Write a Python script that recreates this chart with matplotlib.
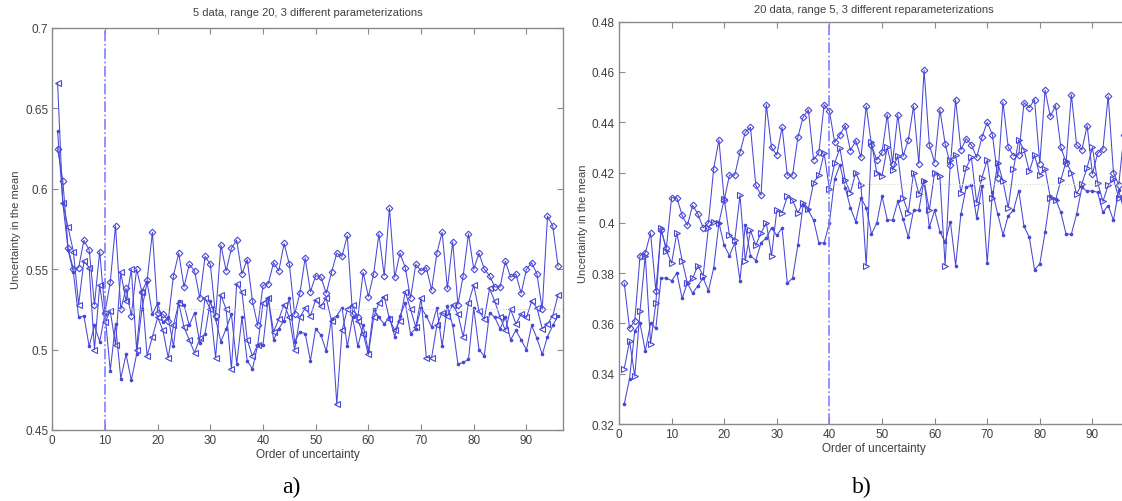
import matplotlib
matplotlib.use("Agg")
import matplotlib.pyplot as plt
import numpy as np

# ---------------- data ----------------
order = list(range(1, 97))

left_diamond = [0.625, 0.605, 0.563, 0.550, 0.551, 0.568, 0.562, 0.528, 0.561, 0.523,
                0.542, 0.577, 0.525, 0.538, 0.521, 0.550, 0.536, 0.543, 0.573, 0.523,
                0.522, 0.518, 0.546, 0.560, 0.539, 0.553, 0.549, 0.532, 0.558, 0.553,
                0.521, 0.565, 0.549, 0.563, 0.568, 0.547, 0.556, 0.530, 0.515, 0.540,
                0.541, 0.554, 0.549, 0.566, 0.553, 0.522, 0.535, 0.557, 0.536, 0.546,
                0.545, 0.535, 0.548, 0.560, 0.558, 0.571, 0.522, 0.520, 0.548, 0.533,
                0.547, 0.572, 0.546, 0.588, 0.545, 0.560, 0.551, 0.532, 0.553, 0.549,
                0.551, 0.537, 0.560, 0.573, 0.538, 0.567, 0.528, 0.546, 0.572, 0.550,
                0.560, 0.550, 0.546, 0.539, 0.539, 0.555, 0.545, 0.547, 0.535, 0.550,
                0.554, 0.547, 0.525, 0.583, 0.577, 0.552]

left_triangle = [0.666, 0.591, 0.576, 0.561, 0.528, 0.555, 0.551, 0.500, 0.540, 0.517,
                 0.524, 0.503, 0.548, 0.530, 0.550, 0.500, 0.536, 0.496, 0.508, 0.520,
                 0.512, 0.495, 0.515, 0.529, 0.514, 0.506, 0.498, 0.507, 0.532, 0.525,
                 0.495, 0.534, 0.525, 0.488, 0.541, 0.536, 0.506, 0.496, 0.503, 0.529,
                 0.532, 0.511, 0.519, 0.528, 0.520, 0.500, 0.520, 0.526, 0.521, 0.531,
                 0.527, 0.532, 0.518, 0.466, 0.512, 0.525, 0.528, 0.518, 0.510, 0.497,
                 0.520, 0.529, 0.533, 0.519, 0.512, 0.518, 0.536, 0.525, 0.514, 0.532,
                 0.495, 0.495, 0.515, 0.523, 0.521, 0.528, 0.522, 0.508, 0.529, 0.540,
                 0.524, 0.519, 0.538, 0.530, 0.520, 0.512, 0.525, 0.516, 0.522, 0.520,
                 0.530, 0.526, 0.513, 0.516, 0.521, 0.534]

left_dot = [0.636, 0.591, 0.562, 0.548, 0.520, 0.521, 0.502, 0.515, 0.505, 0.522,
            0.487, 0.516, 0.482, 0.497, 0.481, 0.497, 0.525, 0.542, 0.522, 0.529,
            0.517, 0.520, 0.502, 0.530, 0.528, 0.515, 0.523, 0.504, 0.510, 0.530,
            0.519, 0.505, 0.513, 0.522, 0.491, 0.520, 0.493, 0.488, 0.503, 0.503,
            0.532, 0.506, 0.513, 0.518, 0.532, 0.505, 0.511, 0.510, 0.493, 0.513,
            0.509, 0.499, 0.519, 0.521, 0.526, 0.502, 0.520, 0.502, 0.515, 0.499,
            0.525, 0.520, 0.516, 0.520, 0.508, 0.521, 0.529, 0.510, 0.513, 0.526,
            0.521, 0.514, 0.526, 0.502, 0.527, 0.515, 0.491, 0.492, 0.494, 0.526,
            0.500, 0.496, 0.523, 0.520, 0.513, 0.520, 0.506, 0.512, 0.506, 0.500,
            0.515, 0.507, 0.497, 0.508, 0.515, 0.521]

right_diamond = [0.376, 0.358, 0.361, 0.387, 0.388, 0.396, 0.373, 0.397, 0.390, 0.410,
                 0.410, 0.403, 0.399, 0.407, 0.4035, 0.398, 0.400, 0.4215, 0.433, 0.409,
                 0.419, 0.419, 0.428, 0.436, 0.438, 0.415, 0.411, 0.447, 0.430, 0.427,
                 0.438, 0.419, 0.419, 0.434, 0.442, 0.445, 0.425, 0.428, 0.447, 0.4445,
                 0.432, 0.435, 0.4387, 0.4287, 0.4327, 0.426, 0.4465, 0.431, 0.425, 0.428,
                 0.443, 0.4236, 0.443, 0.4265, 0.433, 0.4465, 0.4236, 0.4608, 0.431, 0.424,
                 0.445, 0.4315, 0.423, 0.449, 0.429, 0.4335, 0.431, 0.426, 0.434, 0.440,
                 0.435, 0.418, 0.448, 0.430, 0.4267, 0.427, 0.4478, 0.4458, 0.449, 0.4236,
                 0.4528, 0.4423, 0.4466, 0.430, 0.424, 0.451, 0.431, 0.429, 0.4387, 0.4194,
                 0.4277, 0.4294, 0.4505, 0.420, 0.415, 0.435]

right_triangle = [0.342, 0.353, 0.339, 0.365, 0.387, 0.352, 0.368, 0.398, 0.389, 0.384,
                  0.396, 0.385, 0.376, 0.378, 0.383, 0.379, 0.398, 0.4005, 0.400, 0.4095,
                  0.395, 0.393, 0.411, 0.385, 0.397, 0.391, 0.396, 0.400, 0.387, 0.405,
                  0.404, 0.4105, 0.409, 0.404, 0.408, 0.4056, 0.416, 0.419, 0.4277, 0.4135,
                  0.4238, 0.4297, 0.417, 0.412, 0.420, 0.415, 0.383, 0.432, 0.420, 0.4186,
                  0.430, 0.421, 0.4267, 0.410, 0.404, 0.420, 0.4115, 0.4168, 0.405, 0.420,
                  0.4185, 0.383, 0.425, 0.427, 0.412, 0.422, 0.426, 0.408, 0.418, 0.425,
                  0.410, 0.424, 0.4165, 0.406, 0.4215, 0.433, 0.429, 0.4205, 0.427, 0.419,
                  0.4215, 0.410, 0.409, 0.417, 0.4245, 0.420, 0.4115, 0.4155, 0.422, 0.430,
                  0.416, 0.4085, 0.415, 0.4175, 0.410, 0.410]

right_dot = [0.328, 0.338, 0.357, 0.360, 0.349, 0.360, 0.358, 0.378, 0.378, 0.377,
             0.380, 0.370, 0.376, 0.372, 0.375, 0.378, 0.373, 0.382, 0.400, 0.391,
             0.387, 0.392, 0.377, 0.399, 0.387, 0.385, 0.392, 0.394, 0.398, 0.395,
             0.398, 0.376, 0.378, 0.391, 0.407, 0.405, 0.401, 0.392, 0.392, 0.400,
             0.4175, 0.423, 0.414, 0.406, 0.4005, 0.410, 0.406, 0.3956, 0.3999, 0.4106,
             0.4013, 0.401, 0.4085, 0.4016, 0.3943, 0.405, 0.405, 0.4168, 0.3982, 0.405,
             0.3965, 0.3923, 0.4005, 0.383, 0.4035, 0.4141, 0.415, 0.4018, 0.4148, 0.384,
             0.4124, 0.4035, 0.3952, 0.4029, 0.405, 0.4128, 0.3986, 0.3943, 0.3814, 0.3837,
             0.3962, 0.4108, 0.4095, 0.4042, 0.3955, 0.3955, 0.4035, 0.4141, 0.4125, 0.4128,
             0.4121, 0.4042, 0.4069, 0.401, 0.413, 0.405]

left_title = "5 data, range 20, 3 different parameterizations"
right_title = "20 data, range 5, 3 different reparameterizations"
x_label = "Order of uncertainty"
y_label = "Uncertainty in the mean"
left_marker_line = 10
right_marker_line = 40
left_mean = 0.5255
right_mean = 0.4155
left_yticks = [0.45, 0.5, 0.55, 0.6, 0.65, 0.7]
left_yticklabels = ["0.45", "0.5", "0.55", "0.6", "0.65", "0.7"]
right_yticks = [0.32, 0.34, 0.36, 0.38, 0.40, 0.42, 0.44, 0.46, 0.48]
right_yticklabels = ["0.32", "0.34", "0.36", "0.38", "0.4", "0.42", "0.44", "0.46", "0.48"]
xticks = [0, 10, 20, 30, 40, 50, 60, 70, 80, 90]

# ---------------- style ----------------
plt.rcParams['font.family'] = ['Liberation Sans', 'DejaVu Sans']
LINE = '#4848d6'
TXT = '#404040'
SPINE = '#8a8a8a'

fig = plt.figure(figsize=(11.22, 5.02), dpi=100)
W, H = 1122, 502

def make_axes(left_px, right_px, top_px, bottom_px):
    return fig.add_axes([left_px / W, 1 - bottom_px / H,
                         (right_px - left_px) / W, (bottom_px - top_px) / H])

axL = make_axes(52.3, 563.3, 29, 431)
axR = make_axes(619, 619 + 97 * 5.26, 22.7, 425)

def draw(ax, d, t, s, tri_marker, vline, mean_y, ylim, yticks, yticklabels, title, title_pad):
    ax.plot(order, d, '-', color=LINE, lw=0.75, marker='D', ms=3.4, mfc='none', mew=0.8)
    ax.plot(order, t, '-', color=LINE, lw=0.75, marker=tri_marker, ms=3.8, mfc='none', mew=0.8)
    ax.plot(order, s, '-', color=LINE, lw=0.75, marker='.', ms=3.2)
    ax.axvline(vline, color='#8080ff', lw=1.2, ls='-.')
    ax.plot([vline, 97], [mean_y, mean_y], color='#d4d4c4', lw=0.8, ls=':')
    ax.set_xlim(0, 97)
    ax.set_ylim(*ylim)
    ax.set_xticks(xticks)
    ax.set_xticklabels([str(v) for v in xticks])
    ax.set_yticks(yticks)
    ax.set_yticklabels(yticklabels)
    ax.tick_params(direction='in', top=True, right=True, length=4, width=0.8,
                   colors=SPINE, labelcolor=TXT, labelsize=8.5, pad=3)
    for sp in ax.spines.values():
        sp.set_color(SPINE)
        sp.set_linewidth(1.0)
    ax.set_title(title, fontsize=8, color=TXT, pad=title_pad)
    ax.set_xlabel(x_label, fontsize=8.5, color=TXT, labelpad=1)
    ax.set_ylabel(y_label, fontsize=8, color=TXT, labelpad=3)

draw(axL, left_diamond, left_triangle, left_dot, '<', left_marker_line, left_mean,
     (0.45, 0.7), left_yticks, left_yticklabels, left_title, 9)
draw(axR, right_diamond, right_triangle, right_dot, '>', right_marker_line, right_mean,
     (0.32, 0.48), right_yticks, right_yticklabels, right_title, 7)

fig.text(291 / W, 1 - 487 / H, "a)", ha='center', va='center', fontsize=17,
         family=['Liberation Serif', 'DejaVu Serif'], color='black')
fig.text(862 / W, 1 - 487 / H, "b)", ha='center', va='center', fontsize=17,
         family=['Liberation Serif', 'DejaVu Serif'], color='black')

fig.savefig("out.png", dpi=100)
